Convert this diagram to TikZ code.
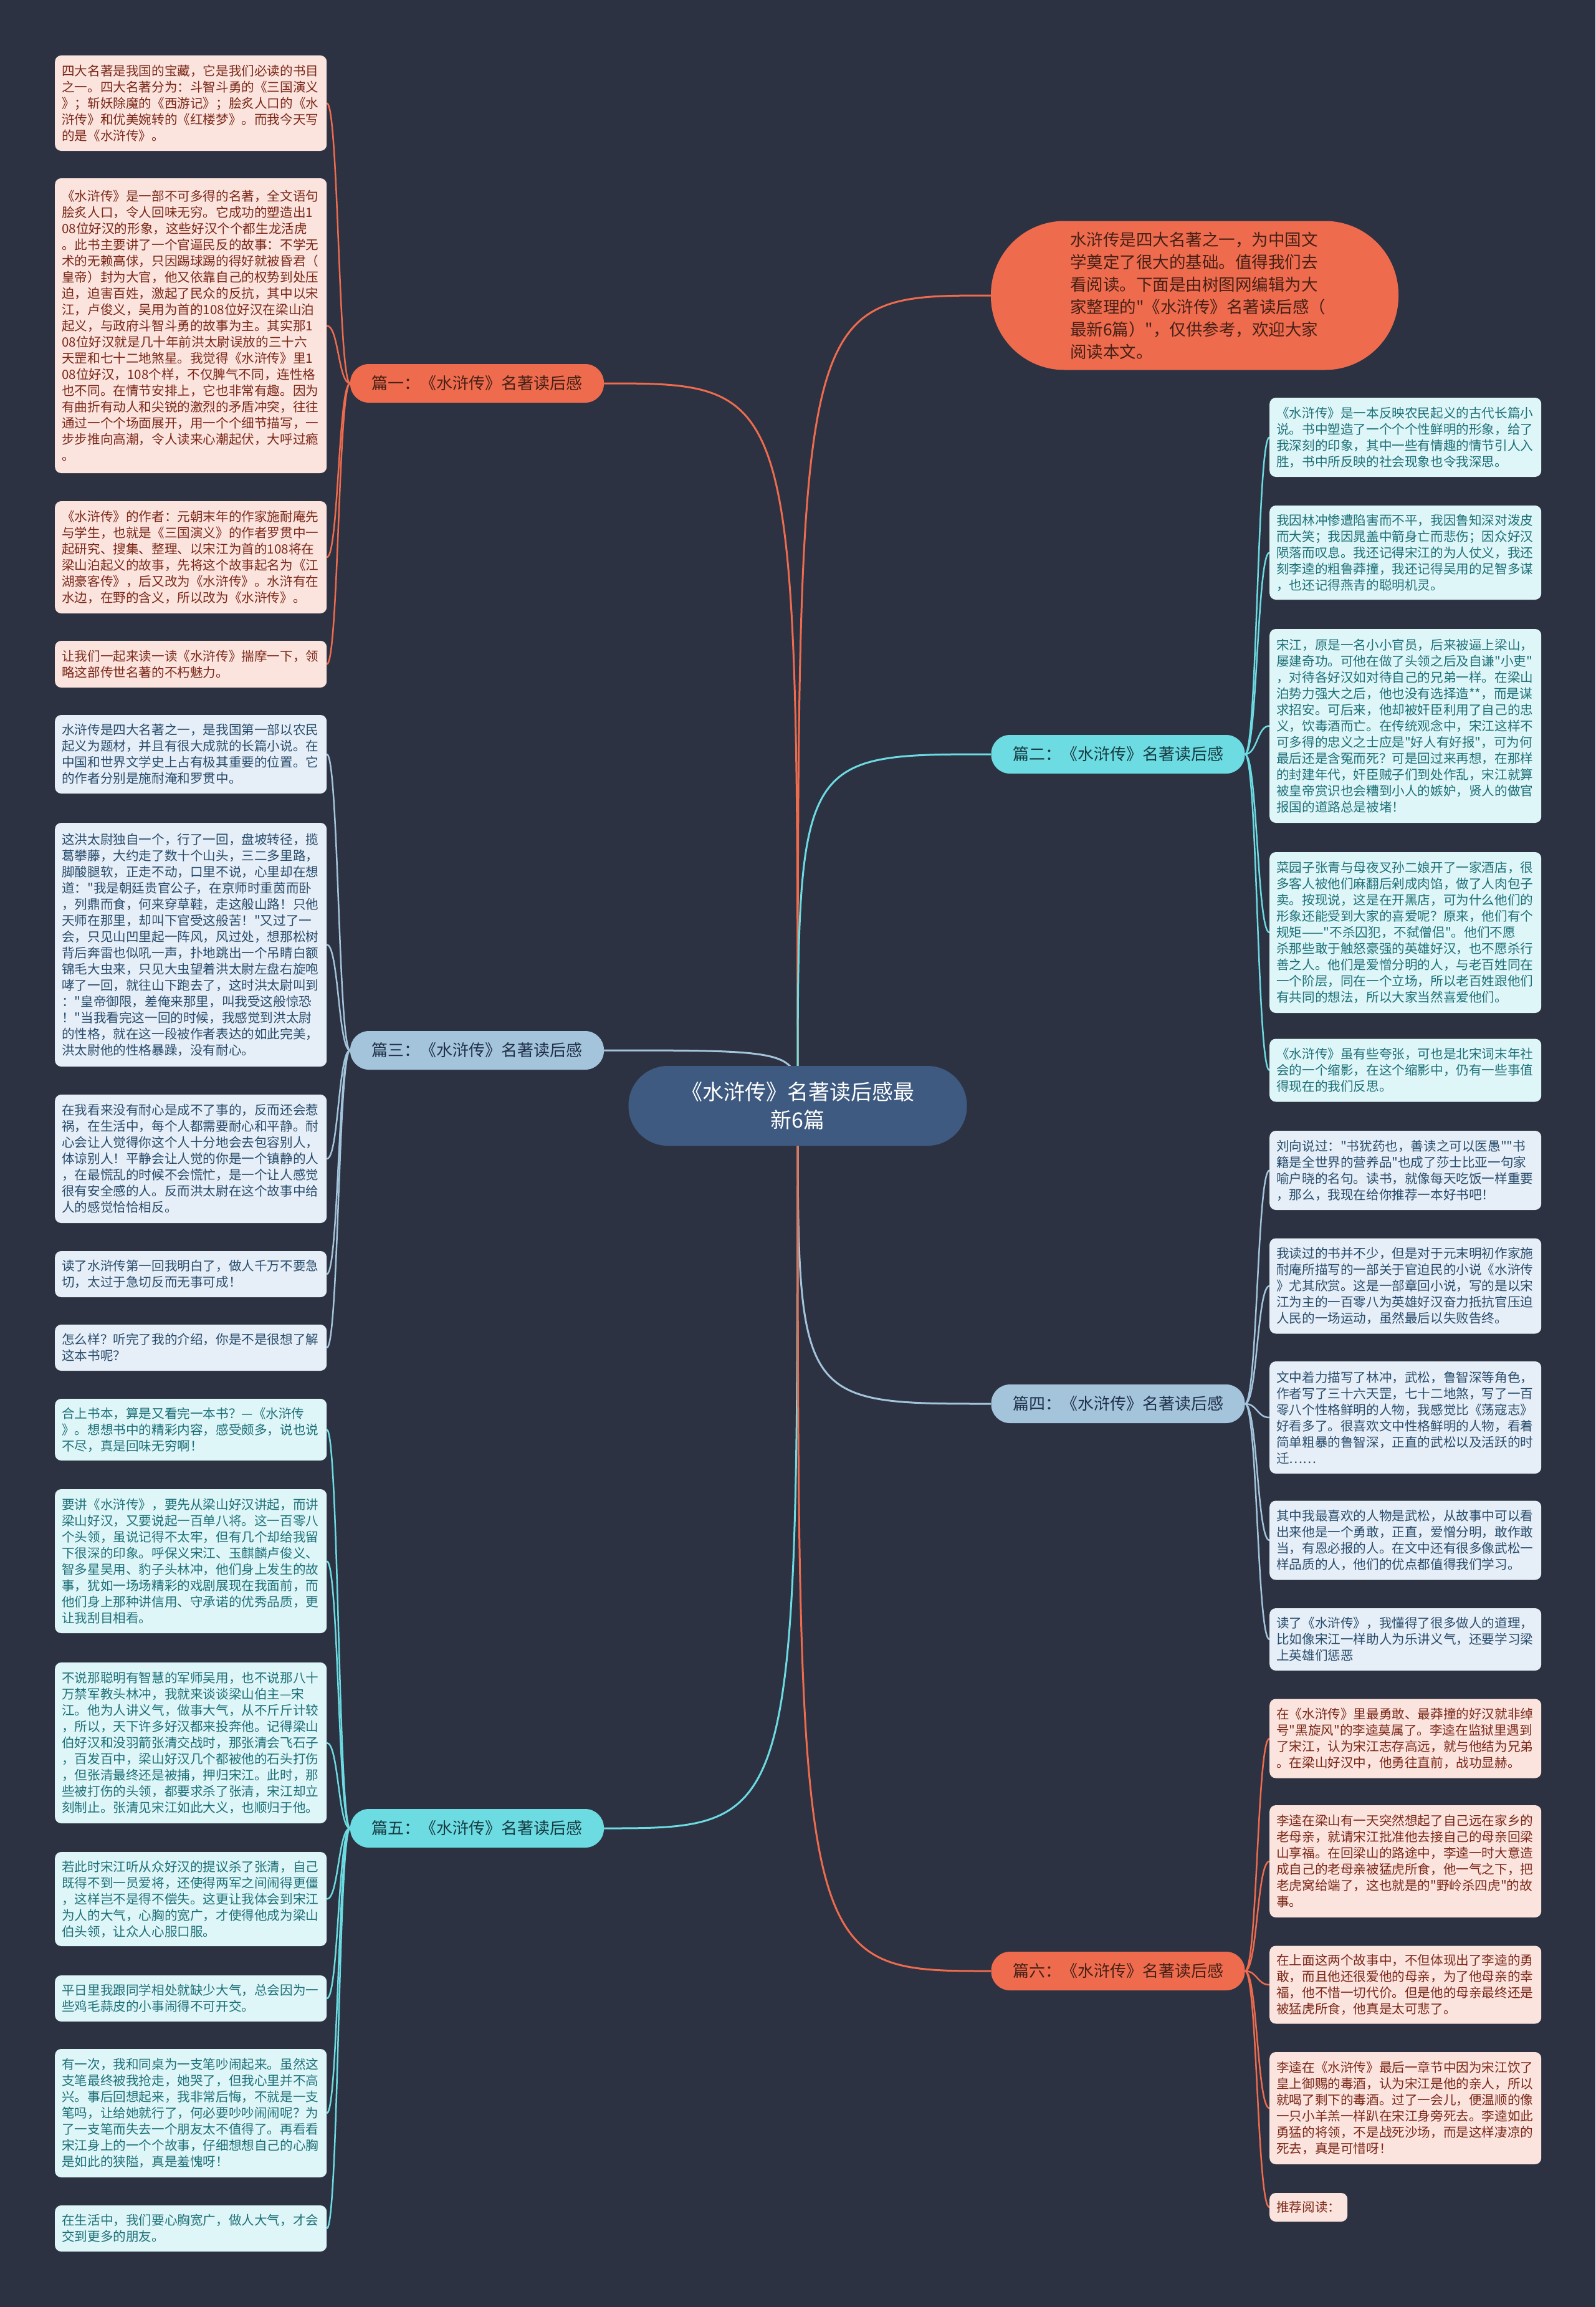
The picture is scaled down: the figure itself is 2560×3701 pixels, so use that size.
\documentclass[tikz,border=0pt]{standalone}
\usepackage{fontspec}
\defaultfontfeatures[\rmfamily]{}
\setmainfont{Noto Sans CJK SC}
\usepackage{xcolor}
\usepackage{tikz}
\usetikzlibrary{backgrounds}

\definecolor{bgnavy}{RGB}{44,50,65}
\definecolor{hubblue}{RGB}{62,90,128}
\definecolor{fillorange}{RGB}{238,107,78}
\definecolor{fillcyan}{RGB}{108,219,226}
\definecolor{fillblue}{RGB}{164,196,220}
\definecolor{paperpink}{RGB}{252,228,222}
\definecolor{papercyan}{RGB}{222,246,248}
\definecolor{paperblue}{RGB}{230,239,247}
\definecolor{inkred}{RGB}{122,40,24}
\definecolor{inkteal}{RGB}{30,112,120}
\definecolor{inkblue}{RGB}{40,76,108}
\definecolor{inkbrown}{RGB}{70,32,22}
\definecolor{inkpetrol}{RGB}{23,60,66}
\definecolor{inknavy}{RGB}{31,49,72}

\begin{document}
\begin{tikzpicture}[
  x=1pt, y=-1pt,
  hub/.style={fill=hubblue,text=white,rounded corners=63pt,minimum width=543pt,minimum height=128pt,align=center,font=\fontsize{34}{45}\selectfont},
  topic/.style={rounded corners=30pt,minimum width=407pt,minimum height=62pt,font=\fontsize{26}{30}\selectfont},
  topicA/.style={topic,fill=fillorange,text=inkbrown},
  topicB/.style={topic,fill=fillcyan,text=inkpetrol},
  topicC/.style={topic,fill=fillblue,text=inknavy},
  note/.style={anchor=west,align=left,text width=414pt,inner xsep=11pt,inner ysep=6pt,rounded corners=10pt,font=\fontsize{20.6}{26}\selectfont},
  noteA/.style={note,fill=paperpink,text=inkred},
  noteB/.style={note,fill=papercyan,text=inkteal},
  noteC/.style={note,fill=paperblue,text=inkblue},
  linkA/.style={draw=fillorange,line width=3pt},
  linkB/.style={draw=fillcyan,line width=3pt},
  linkC/.style={draw=fillblue,line width=3pt},
]
  \begin{scope}[on background layer]
    \fill[bgnavy] (0,0) rectangle (2560,3701);
  \end{scope}

  % centre and intro
  \node[hub] (hub) at (1280,1774) {《水浒传》名著读后感最\\新6篇};
  \node[topicA,rounded corners=118pt,minimum width=654pt,minimum height=239pt,align=left,text width=400pt,text=inkbrown,font=\fontsize{26.5}{36}\selectfont] (intro) at (1917,474) {水浒传是四大名著之一，为中国文\\学奠定了很大的基础。值得我们去\\看阅读。下面是由树图网编辑为大\\家整理的"《水浒传》名著读后感（\\最新6篇）"，仅供参考，欢迎大家\\阅读本文。};

  % six topics
  \node[topicA] (p1) at (765.5,615) {篇一：《水浒传》名著读后感};
  \node[topicB] (p2) at (1794,1210) {篇二：《水浒传》名著读后感};
  \node[topicC] (p3) at (765.5,1685) {篇三：《水浒传》名著读后感};
  \node[topicC] (p4) at (1794,2252) {篇四：《水浒传》名著读后感};
  \node[topicB] (p5) at (765.5,2933) {篇五：《水浒传》名著读后感};
  \node[topicA] (p6) at (1794,3162) {篇六：《水浒传》名著读后感};

  % notes of p1
  \node[noteA,minimum height=153pt] (p1a) at (88,165.5) {四大名著是我国的宝藏，它是我们必读的书目\\之一。四大名著分为：斗智斗勇的《三国演义\\》；斩妖除魔的《西游记》；脍炙人口的《水\\浒传》和优美婉转的《红楼梦》。而我今天写\\的是《水浒传》。};
  \node[noteA,minimum height=473pt] (p1b) at (88,522.5) {《水浒传》是一部不可多得的名著，全文语句\\脍炙人口，令人回味无穷。它成功的塑造出1\\08位好汉的形象，这些好汉个个都生龙活虎\\。此书主要讲了一个官逼民反的故事：不学无\\术的无赖高俅，只因踢球踢的得好就被昏君（\\皇帝）封为大官，他又依靠自己的权势到处压\\迫，迫害百姓，激起了民众的反抗，其中以宋\\江，卢俊义，吴用为首的108位好汉在梁山泊\\起义，与政府斗智斗勇的故事为主。其实那1\\08位好汉就是几十年前洪太尉误放的三十六\\天罡和七十二地煞星。我觉得《水浒传》里1\\08位好汉，108个样，不仅脾气不同，连性格\\也不同。在情节安排上，它也非常有趣。因为\\有曲折有动人和尖锐的激烈的矛盾冲突，往往\\通过一个个场面展开，用一个个细节描写，一\\步步推向高潮，令人读来心潮起伏，大呼过瘾\\。};
  \node[noteA,minimum height=180pt] (p1c) at (88,894) {《水浒传》的作者：元朝末年的作家施耐庵先\\与学生，也就是《三国演义》的作者罗贯中一\\起研究、搜集、整理、以宋江为首的108将在\\梁山泊起义的故事，先将这个故事起名为《江\\湖豪客传》，后又改为《水浒传》。水浒有在\\水边，在野的含义，所以改为《水浒传》。};
  \node[noteA,minimum height=75pt] (p1d) at (88,1065.5) {让我们一起来读一读《水浒传》揣摩一下，领\\略这部传世名著的不朽魅力。};

  % notes of p3
  \node[noteC,minimum height=126pt] (p3a) at (88,1210) {水浒传是四大名著之一，是我国第一部以农民\\起义为题材，并且有很大成就的长篇小说。在\\中国和世界文学史上占有极其重要的位置。它\\的作者分别是施耐淹和罗贯中。};
  \node[noteC,minimum height=391pt] (p3b) at (88,1515.5) {这洪太尉独自一个，行了一回，盘坡转径，揽\\葛攀藤，大约走了数十个山头，三二多里路，\\脚酸腿软，正走不动，口里不说，心里却在想\\道："我是朝廷贵官公子，在京师时重茵而卧\\，列鼎而食，何来穿草鞋，走这般山路！只他\\天师在那里，却叫下官受这般苦！"又过了一\\会，只见山凹里起一阵风，风过处，想那松树\\背后奔雷也似吼一声，扑地跳出一个吊睛白额\\锦毛大虫来，只见大虫望着洪太尉左盘右旋咆\\哮了一回，就往山下跑去了，这时洪太尉叫到\\："皇帝御限，差俺来那里，叫我受这般惊恐\\！"当我看完这一回的时候，我感觉到洪太尉\\的性格，就在这一段被作者表达的如此完美，\\洪太尉他的性格暴躁，没有耐心。};
  \node[noteC,minimum height=206pt] (p3c) at (88,1859) {在我看来没有耐心是成不了事的，反而还会惹\\祸，在生活中，每个人都需要耐心和平静。耐\\心会让人觉得你这个人十分地会去包容别人，\\体谅别人！平静会让人觉的你是一个镇静的人\\，在最慌乱的时候不会慌忙，是一个让人感觉\\很有安全感的人。反而洪太尉在这个故事中给\\人的感觉恰恰相反。};
  \node[noteC,minimum height=74pt] (p3d) at (88,2044) {读了水浒传第一回我明白了，做人千万不要急\\切，太过于急切反而无事可成！};
  \node[noteC,minimum height=74pt] (p3e) at (88,2162) {怎么样？听完了我的介绍，你是不是很想了解\\这本书呢？};

  % notes of p5
  \node[noteB,minimum height=99pt] (p5a) at (88,2293.5) {合上书本，算是又看完一本书？—《水浒传\\》。想想书中的精彩内容，感受颇多，说也说\\不尽，真是回味无穷啊！};
  \node[noteB,minimum height=231pt] (p5b) at (88,2504.5) {要讲《水浒传》，要先从梁山好汉讲起，而讲\\梁山好汉，又要说起一百单八将。这一百零八\\个头领，虽说记得不太牢，但有几个却给我留\\下很深的印象。呼保义宋江、玉麒麟卢俊义、\\智多星吴用、豹子头林冲，他们身上发生的故\\事，犹如一场场精彩的戏剧展现在我面前，而\\他们身上那种讲信用、守承诺的优秀品质，更\\让我刮目相看。};
  \node[noteB,minimum height=258pt] (p5c) at (88,2796) {不说那聪明有智慧的军师吴用，也不说那八十\\万禁军教头林冲，我就来谈谈梁山伯主—宋\\江。他为人讲义气，做事大气，从不斤斤计较\\，所以，天下许多好汉都来投奔他。记得梁山\\伯好汉和没羽箭张清交战时，那张清会飞石子\\，百发百中，梁山好汉几个都被他的石头打伤\\，但张清最终还是被捕，押归宋江。此时，那\\些被打伤的头领，都要求杀了张清，宋江却立\\刻制止。张清见宋江如此大义，也顺归于他。};
  \node[noteB,minimum height=151pt] (p5d) at (88,3046.5) {若此时宋江听从众好汉的提议杀了张清，自己\\既得不到一员爱将，还使得两军之间闹得更僵\\，这样岂不是得不偿失。这更让我体会到宋江\\为人的大气，心胸的宽广，才使得他成为梁山\\伯头领，让众人心服口服。};
  \node[noteB,minimum height=74pt] (p5e) at (88,3206) {平日里我跟同学相处就缺少大气，总会因为一\\些鸡毛蒜皮的小事闹得不可开交。};
  \node[noteB,minimum height=206pt] (p5f) at (88,3390) {有一次，我和同桌为一支笔吵闹起来。虽然这\\支笔最终被我抢走，她哭了，但我心里并不高\\兴。事后回想起来，我非常后悔，不就是一支\\笔吗，让给她就行了，何必要吵吵闹闹呢？为\\了一支笔而失去一个朋友太不值得了。再看看\\宋江身上的一个个故事，仔细想想自己的心胸\\是如此的狭隘，真是羞愧呀！};
  \node[noteB,minimum height=74pt] (p5g) at (88,3575) {在生活中，我们要心胸宽广，做人大气，才会\\交到更多的朋友。};

  % notes of p2
  \node[noteB,minimum height=127pt] (p2a) at (2037,701.5) {《水浒传》是一本反映农民起义的古代长篇小\\说。书中塑造了一个个个性鲜明的形象，给了\\我深刻的印象，其中一些有情趣的情节引人入\\胜，书中所反映的社会现象也令我深思。};
  \node[noteB,minimum height=151pt] (p2b) at (2037,886.5) {我因林冲惨遭陷害而不平，我因鲁知深对泼皮\\而大笑；我因晁盖中箭身亡而悲伤；因众好汉\\陨落而叹息。我还记得宋江的为人仗义，我还\\刻李逵的粗鲁莽撞，我还记得吴用的足智多谋\\，也还记得燕青的聪明机灵。};
  \node[noteB,minimum height=311pt] (p2c) at (2037,1164.5) {宋江，原是一名小小官员，后来被逼上梁山，\\屡建奇功。可他在做了头领之后及自谦"小吏"\\，对待各好汉如对待自己的兄弟一样。在梁山\\泊势力强大之后，他也没有选择造**，而是谋\\求招安。可后来，他却被奸臣利用了自己的忠\\义，饮毒酒而亡。在传统观念中，宋江这样不\\可多得的忠义之士应是"好人有好报"，可为何\\最后还是含冤而死？可是回过来再想，在那样\\的封建年代，奸臣贼子们到处作乱，宋江就算\\被皇帝赏识也会糟到小人的嫉妒，贤人的做官\\报国的道路总是被堵！};
  \node[noteB,minimum height=258pt] (p2d) at (2037,1496) {菜园子张青与母夜叉孙二娘开了一家酒店，很\\多客人被他们麻翻后剁成肉馅，做了人肉包子\\卖。按现说，这是在开黑店，可为什么他们的\\形象还能受到大家的喜爱呢？原来，他们有个\\规矩——"不杀囚犯，不弑僧侣"。他们不愿\\杀那些敢于触怒豪强的英雄好汉，也不愿杀行\\善之人。他们是爱憎分明的人，与老百姓同在\\一个阶层，同在一个立场，所以老百姓跟他们\\有共同的想法，所以大家当然喜爱他们。};
  \node[noteB,minimum height=101pt] (p2e) at (2037,1717) {《水浒传》虽有些夸张，可也是北宋词末年社\\会的一个缩影，在这个缩影中，仍有一些事值\\得现在的我们反思。};

  % notes of p4
  \node[noteC,minimum height=127pt] (p4a) at (2037,1877.5) {刘向说过："书犹药也，善读之可以医愚""书\\籍是全世界的营养品"也成了莎士比亚一句家\\喻户晓的名句。读书，就像每天吃饭一样重要\\，那么，我现在给你推荐一本好书吧！};
  \node[noteC,minimum height=153pt] (p4b) at (2037,2063) {我读过的书并不少，但是对于元末明初作家施\\耐庵所描写的一部关于官迫民的小说《水浒传\\》尤其欣赏。这是一部章回小说，写的是以宋\\江为主的一百零八为英雄好汉奋力抵抗官压迫\\人民的一场运动，虽然最后以失败告终。};
  \node[noteC,minimum height=180pt] (p4c) at (2037,2274) {文中着力描写了林冲，武松，鲁智深等角色，\\作者写了三十六天罡，七十二地煞，写了一百\\零八个性格鲜明的人物，我感觉比《荡寇志》\\好看多了。很喜欢文中性格鲜明的人物，看着\\简单粗暴的鲁智深，正直的武松以及活跃的时\\迁……};
  \node[noteC,minimum height=127pt] (p4d) at (2037,2471) {其中我最喜欢的人物是武松，从故事中可以看\\出来他是一个勇敢，正直，爱憎分明，敢作敢\\当，有恩必报的人。在文中还有很多像武松一\\样品质的人，他们的优点都值得我们学习。};
  \node[noteC,minimum height=100pt] (p4e) at (2037,2630) {读了《水浒传》，我懂得了很多做人的道理，\\比如像宋江一样助人为乐讲义气，还要学习梁\\上英雄们惩恶};

  % notes of p6
  \node[noteA,minimum height=127pt] (p6a) at (2037,2789) {在《水浒传》里最勇敢、最莽撞的好汉就非绰\\号"黑旋风"的李逵莫属了。李逵在监狱里遇到\\了宋江，认为宋江志存高远，就与他结为兄弟\\。在梁山好汉中，他勇往直前，战功显赫。};
  \node[noteA,minimum height=180pt] (p6b) at (2037,2986) {李逵在梁山有一天突然想起了自己远在家乡的\\老母亲，就请宋江批准他去接自己的母亲回梁\\山享福。在回梁山的路途中，李逵一时大意造\\成自己的老母亲被猛虎所食，他一气之下，把\\老虎窝给端了，这也就是的"野岭杀四虎"的故\\事。};
  \node[noteA,minimum height=125pt] (p6c) at (2037,3184) {在上面这两个故事中，不但体现出了李逵的勇\\敢，而且他还很爱他的母亲，为了他母亲的幸\\福，他不惜一切代价。但是他的母亲最终还是\\被猛虎所食，他真是太可悲了。};
  \node[noteA,minimum height=180pt] (p6d) at (2037,3382) {李逵在《水浒传》最后一章节中因为宋江饮了\\皇上御赐的毒酒，认为宋江是他的亲人，所以\\就喝了剩下的毒酒。过了一会儿，便温顺的像\\一只小羊羔一样趴在宋江身旁死去。李逵如此\\勇猛的将领，不是战死沙场，而是这样凄凉的\\死去，真是可惜呀！};
  \node[noteA,minimum height=46pt,text width=103pt] (p6e) at (2037,3541) {推荐阅读：};

  % links
  \begin{scope}[on background layer]
    \draw[linkA] (hub.center) .. controls (hub.center |- intro.west) .. (intro.west);
    \draw[linkA] (hub.center) .. controls (hub.center |- p1.east) .. (p1.east);
    \draw[linkB] (hub.center) .. controls (hub.center |- p2.west) .. (p2.west);
    \draw[linkC] (hub.center) .. controls (hub.center |- p3.east) .. (p3.east);
    \draw[linkC] (hub.center) .. controls (hub.center |- p4.west) .. (p4.west);
    \draw[linkB] (hub.center) .. controls (hub.center |- p5.east) .. (p5.east);
    \draw[linkA] (hub.center) .. controls (hub.center |- p6.west) .. (p6.west);
    \foreach \n in {p1a,p1b,p1c,p1d}
      \draw[linkA,line width=2.5pt] (p1.west) .. controls +(-19,0) and +(19,0) .. (\n.east);
    \foreach \n in {p3a,p3b,p3c,p3d,p3e}
      \draw[linkC,line width=2.5pt] (p3.west) .. controls +(-19,0) and +(19,0) .. (\n.east);
    \foreach \n in {p5a,p5b,p5c,p5d,p5e,p5f,p5g}
      \draw[linkB,line width=2.5pt] (p5.west) .. controls +(-19,0) and +(19,0) .. (\n.east);
    \foreach \n in {p2a,p2b,p2c,p2d,p2e}
      \draw[linkB,line width=2.5pt] (p2.east) .. controls +(20,0) and +(-20,0) .. (\n.west);
    \foreach \n in {p4a,p4b,p4c,p4d,p4e}
      \draw[linkC,line width=2.5pt] (p4.east) .. controls +(20,0) and +(-20,0) .. (\n.west);
    \foreach \n in {p6a,p6b,p6c,p6d,p6e}
      \draw[linkA,line width=2.5pt] (p6.east) .. controls +(20,0) and +(-20,0) .. (\n.west);
  \end{scope}
\end{tikzpicture}
\end{document}
